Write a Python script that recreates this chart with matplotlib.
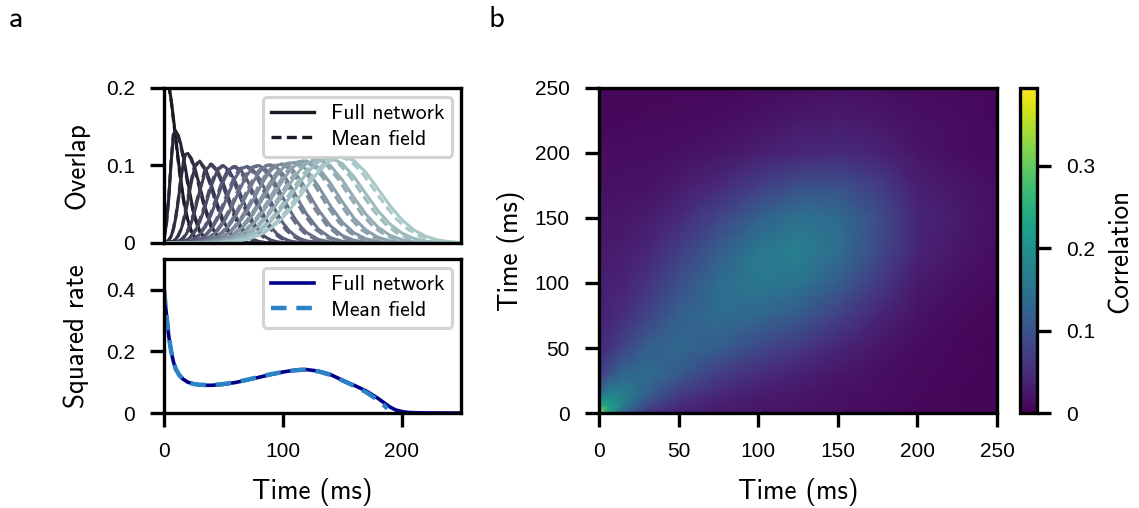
import numpy as np
import matplotlib
matplotlib.use('Agg')
import matplotlib.pyplot as plt
from matplotlib.lines import Line2D

# ---------------------------------------------------------------------------
# Data
# ---------------------------------------------------------------------------

# panel a (top): overlaps of the network state with each pattern of the sequence
t_overlap = [0, 2, 4, 6, 8, 10, 12, 14, 16, 18, 20, 23, 26, 30, 35, 40, 45, 50, 55, 60,
             65, 70, 75, 80, 85, 90, 95, 100, 105, 110, 115, 120, 130, 140, 150, 160,
             170, 180, 190, 200, 210, 220, 230, 240, 250]
# mean field runs slightly faster than the full network
t_overlap_mf = [0, 2, 3.9, 5.9, 7.8, 9.8, 11.8, 13.7, 15.7, 17.6, 19.6, 22.5, 25.5, 29.4,
                34.3, 39.2, 44.1, 49, 53.9, 58.8, 63.7, 68.6, 73.5, 78.4, 83.3, 88.2, 93.1,
                98, 102.9, 107.8, 112.7, 117.6, 127.4, 137.2, 147, 156.8, 166.6, 176.4,
                186.2, 196, 205.8, 215.6, 225.4, 235.2, 245]

overlap = [
    [0.221, 0.217, 0.204, 0.185, 0.160, 0.134, 0.1075, 0.083, 0.0614, 0.0437, 0.0299,
     0.0157, 0.0075, 0.0024, 0.0005, 0.0001] + [0] * 29,
    [0.005, 0.0242, 0.0582, 0.1044, 0.1398, 0.1443, 0.1386, 0.128, 0.1135, 0.0967, 0.0792,
     0.0544, 0.0342, 0.016, 0.0049, 0.0012, 0.0002] + [0] * 28,
    [0.0005, 0.0014, 0.0036, 0.0086, 0.018, 0.0334, 0.0546, 0.0789, 0.101, 0.1142, 0.1156,
     0.1092, 0.0964, 0.0734, 0.0441, 0.0219, 0.009, 0.0031, 0.0009, 0.0002] + [0] * 25,
    [0, 0.0002, 0.0005, 0.0012, 0.0026, 0.0051, 0.0093, 0.0159, 0.0255, 0.0382, 0.0535,
     0.0782, 0.0983, 0.1057, 0.0953, 0.0741, 0.0497, 0.0287, 0.0143, 0.0062, 0.0023,
     0.0007, 0.0002] + [0] * 22,
    [0, 0.0001, 0.0002, 0.0003, 0.0006, 0.0012, 0.0021, 0.0037, 0.0061, 0.0098, 0.015,
     0.0262, 0.0416, 0.0663, 0.0937, 0.1018, 0.0936, 0.0765, 0.0555, 0.0357, 0.0204,
     0.0104, 0.0047, 0.0019, 0.0007, 0.0002] + [0] * 19,
    [0] * 4 + [0.0002, 0.0004, 0.0007, 0.0011, 0.0019, 0.003, 0.0046, 0.0085, 0.0145,
               0.0268, 0.0489, 0.0744, 0.0943, 0.0998, 0.0932, 0.079, 0.0607, 0.0423,
               0.0267, 0.0153, 0.008, 0.0038, 0.0016, 0.0006, 0.0002] + [0] * 16,
    [0] * 6 + [0.0003, 0.0004, 0.0007, 0.0011, 0.0017, 0.0031, 0.0054, 0.0105, 0.0213,
               0.0378, 0.0587, 0.0798, 0.0949, 0.0988, 0.0933, 0.0813, 0.0652, 0.0482,
               0.0328, 0.0206, 0.0119, 0.0064, 0.0031, 0.0014, 0.0006, 0.0002] + [0] * 13,
    [0] * 8 + [0.0003, 0.0005, 0.0008, 0.0014, 0.0023, 0.0045, 0.0095, 0.018, 0.0308,
               0.0476, 0.0665, 0.084, 0.0958, 0.0989, 0.0942, 0.0837, 0.0694, 0.0537,
               0.0388, 0.0262, 0.0164, 0.0097, 0.0053, 0.0027, 0.0006, 0.0001] + [0] * 11,
    [0] * 9 + [0.0002, 0.0004, 0.0007, 0.0011, 0.0022, 0.0046, 0.0088, 0.0158, 0.0261,
               0.0399, 0.0562, 0.0731, 0.0879, 0.0975, 0.0999, 0.0958, 0.0866, 0.0737,
               0.0592, 0.0448, 0.0319, 0.0214, 0.0135, 0.0045, 0.0012, 0.0002] + [0] * 10,
    [0] * 10 + [0.0002, 0.0004, 0.0006, 0.0011, 0.0024, 0.0046, 0.0083, 0.0142, 0.0228,
                0.0342, 0.0481, 0.0634, 0.0785, 0.091, 0.0989, 0.1009, 0.0973, 0.0891,
                0.0775, 0.064, 0.0502, 0.0374, 0.0178, 0.0069, 0.0022, 0.0006, 0.0001] + [0] * 8,
    [0] * 11 + [0.0002, 0.0004, 0.0007, 0.0013, 0.0025, 0.0046, 0.008, 0.0131, 0.0203,
                0.0299, 0.0418, 0.0553, 0.0695, 0.0829, 0.0936, 0.1003, 0.1019, 0.0987,
                0.0914, 0.0809, 0.0684, 0.0427, 0.0223, 0.0097, 0.0035, 0.0011, 0.0003] + [0] * 7,
    [0] * 12 + [0.0002, 0.0004, 0.0008, 0.0015, 0.0027, 0.0047, 0.0078, 0.0123, 0.0186,
                0.0269, 0.0372, 0.0492, 0.0623, 0.0754, 0.0873, 0.0968, 0.1025, 0.1039,
                0.101, 0.0944, 0.0731, 0.0482, 0.0271, 0.013, 0.0053, 0.0018, 0.0005,
                0.0001] + [0] * 5,
    [0] * 13 + [0.0003, 0.0005, 0.0009, 0.0017, 0.0029, 0.0048, 0.0076, 0.0117, 0.0172,
                0.0245, 0.0335, 0.0442, 0.0561, 0.0685, 0.0807, 0.0914, 0.0997, 0.1047,
                0.1059, 0.0972, 0.0774, 0.0535, 0.032, 0.0166, 0.0075, 0.0029, 0.001,
                0.0003] + [0] * 4,
    [0] * 14 + [0.0003, 0.0006, 0.0011, 0.0018, 0.003, 0.0049, 0.0075, 0.0112, 0.0162,
                0.0226, 0.0306, 0.0401, 0.0508, 0.0624, 0.0742, 0.0854, 0.0951, 0.1024,
                0.1079, 0.1, 0.0815, 0.0585, 0.037, 0.0206, 0.0101, 0.0043, 0.0016,
                0.0006, 0.0002] + [0] * 2,
    [0] * 15 + [0.0004, 0.0007, 0.0012, 0.002, 0.0032, 0.0049, 0.0074, 0.0108, 0.0153,
                0.0211, 0.0282, 0.0367, 0.0465, 0.0571, 0.0683, 0.0794, 0.0897, 0.1051,
                0.1099, 0.1026, 0.0854, 0.0633, 0.0419, 0.0247, 0.013, 0.0061, 0.0025,
                0.0009, 0.0003, 0.0001],
    [0] * 16 + [0.0005, 0.0008, 0.0013, 0.0021, 0.0032, 0.0048, 0.0071, 0.0101, 0.014,
                0.0191, 0.0253, 0.0328, 0.0414, 0.051, 0.0614, 0.072, 0.092, 0.1066,
                0.112, 0.1063, 0.091, 0.0701, 0.0487, 0.0305, 0.0172, 0.0088, 0.004,
                0.0017, 0.0006],
]

# panel a (bottom): squared rate
t_rate = [0, 2, 4, 6, 8, 10, 13, 16, 20, 25, 30, 35, 40, 50, 60, 70, 80, 90, 100, 110,
          115, 120, 130, 140, 150, 160, 170, 180, 185, 190, 195, 200, 205, 210, 220, 230,
          240, 250]
rate_full = [0.40, 0.32, 0.25, 0.20, 0.165, 0.142, 0.122, 0.110, 0.100, 0.094, 0.091,
             0.090, 0.090, 0.093, 0.099, 0.107, 0.116, 0.125, 0.133, 0.139, 0.141, 0.141,
             0.136, 0.125, 0.107, 0.090, 0.072, 0.048, 0.034, 0.020, 0.010, 0.005, 0.002,
             0.001, 0.0003, 0.0001, 0, 0]
t_rate_mf = [0, 2, 4, 6, 8, 10, 13, 16, 20, 25, 30, 35, 40, 50, 60, 70, 80, 90, 100, 110,
             115, 120, 130, 140, 150, 160, 170, 180, 185, 188]
rate_mf = [0.40, 0.32, 0.25, 0.20, 0.165, 0.142, 0.122, 0.110, 0.100, 0.094, 0.092, 0.091,
           0.091, 0.094, 0.100, 0.108, 0.117, 0.126, 0.133, 0.138, 0.140, 0.140, 0.135,
           0.124, 0.106, 0.088, 0.068, 0.042, 0.026, 0.014]

# panel b: correlation between times t (x) and t' (y), rows are t'
corr_t = [0, 6, 15, 30, 50, 75, 100, 125, 150, 175, 200, 225, 250]
corr = [
    [0.365, 0.225, 0.125, 0.058, 0.036, 0.028, 0.023, 0.020, 0.016, 0.012, 0.009, 0.007, 0.005],
    [0.232, 0.225, 0.165, 0.089, 0.048, 0.033, 0.026, 0.022, 0.017, 0.013, 0.009, 0.007, 0.005],
    [0.132, 0.172, 0.170, 0.122, 0.072, 0.044, 0.031, 0.025, 0.018, 0.014, 0.010, 0.007, 0.005],
    [0.067, 0.098, 0.130, 0.140, 0.111, 0.072, 0.050, 0.036, 0.024, 0.016, 0.010, 0.008, 0.005],
    [0.045, 0.057, 0.081, 0.118, 0.132, 0.114, 0.087, 0.064, 0.041, 0.024, 0.013, 0.009, 0.006],
    [0.036, 0.041, 0.052, 0.080, 0.120, 0.140, 0.132, 0.110, 0.076, 0.042, 0.019, 0.012, 0.007],
    [0.031, 0.034, 0.039, 0.058, 0.094, 0.140, 0.160, 0.152, 0.116, 0.068, 0.029, 0.018, 0.010],
    [0.027, 0.028, 0.031, 0.042, 0.070, 0.116, 0.158, 0.170, 0.143, 0.090, 0.039, 0.025, 0.013],
    [0.022, 0.023, 0.024, 0.030, 0.047, 0.081, 0.121, 0.149, 0.138, 0.093, 0.043, 0.028, 0.015],
    [0.017, 0.017, 0.018, 0.020, 0.028, 0.046, 0.072, 0.094, 0.097, 0.072, 0.035, 0.024, 0.014],
    [0.013, 0.013, 0.014, 0.014, 0.017, 0.023, 0.033, 0.043, 0.047, 0.039, 0.023, 0.015, 0.010],
    [0.009, 0.009, 0.009, 0.010, 0.011, 0.014, 0.020, 0.027, 0.030, 0.026, 0.017, 0.014, 0.008],
    [0.007, 0.007, 0.007, 0.007, 0.008, 0.009, 0.012, 0.015, 0.017, 0.016, 0.012, 0.010, 0.008],
]
corr_max = 0.394

# ---------------------------------------------------------------------------
# Style
# ---------------------------------------------------------------------------
plt.rcParams['font.family'] = ['Liberation Sans', 'DejaVu Sans']
LABEL_FONT = 'cmss10'
LABEL_SIZE = 19.5
LEGEND_SIZE = 15.6
TICK_SIZE = 15
SPINE_W = 2.4
TICK_LEN = 10
TICK_PAD = 11

fig = plt.figure(figsize=(11.39, 5.08), dpi=100)
ax_ov = fig.add_axes([0.144, 0.5217, 0.2607, 0.3051])
ax_r = fig.add_axes([0.144, 0.187, 0.2607, 0.3032])
ax_c = fig.add_axes([0.5259, 0.187, 0.3494, 0.6398])
cax = fig.add_axes([0.8955, 0.187, 0.015, 0.6398])


def style_axes(ax):
    for sp in ax.spines.values():
        sp.set_linewidth(SPINE_W)
    ax.tick_params(width=SPINE_W, length=TICK_LEN, pad=TICK_PAD, labelsize=TICK_SIZE)


def add_legend(ax, *args):
    leg = ax.legend(*args, loc='upper right', prop={'family': LABEL_FONT, 'size': LEGEND_SIZE},
                    framealpha=0.85, edgecolor='#cccccc', borderpad=0.35,
                    labelspacing=0.3, handlelength=2.0, handletextpad=0.8,
                    borderaxespad=0.4)
    leg.get_frame().set_linewidth(2.2)
    return leg


# --- overlaps ---
colors = plt.cm.bone(np.linspace(0.12, 0.75, len(overlap)))
for k, vals in enumerate(overlap):
    ax_ov.plot(t_overlap, vals, color=colors[k], lw=2.2, solid_capstyle='butt')
    ax_ov.plot(t_overlap_mf, vals, color=colors[k], lw=2.2, ls=(0, (3, 1.6)))
ax_ov.set_xlim(0, 250)
ax_ov.set_ylim(0, 0.2)
ax_ov.set_yticks([0, 0.1, 0.2])
ax_ov.set_yticklabels(['0', '0.1', '0.2'])
ax_ov.set_xticks([0, 100, 200])
ax_ov.set_ylabel('Overlap', fontfamily=LABEL_FONT, fontsize=LABEL_SIZE, labelpad=12)
style_axes(ax_ov)
ax_ov.tick_params(axis='x', bottom=False, labelbottom=False)
handles = [Line2D([], [], color=colors[0], lw=2.4),
           Line2D([], [], color=colors[0], lw=2.4, ls=(0, (3, 1.6)))]
add_legend(ax_ov, handles, ['Full network', 'Mean field'])

# --- squared rate ---
ax_r.plot(t_rate, rate_full, color='#00008b', lw=2.6, label='Full network')
ax_r.plot(t_rate_mf, rate_mf, color='#2b83c6', lw=3.2, ls=(0, (3.5, 2.2)), label='Mean field')
ax_r.set_xlim(0, 250)
ax_r.set_ylim(0, 0.5)
ax_r.set_yticks([0, 0.2, 0.4])
ax_r.set_yticklabels(['0', '0.2', '0.4'])
ax_r.set_xticks([0, 100, 200])
ax_r.set_xlabel('Time (ms)', fontfamily=LABEL_FONT, fontsize=LABEL_SIZE, labelpad=12)
ax_r.set_ylabel('Squared rate', fontfamily=LABEL_FONT, fontsize=LABEL_SIZE, labelpad=12)
style_axes(ax_r)
add_legend(ax_r)

# --- correlation map ---
mesh = ax_c.pcolormesh(corr_t, corr_t, np.array(corr), shading='gouraud',
                       cmap='viridis', vmin=0, vmax=corr_max)
ax_c.set_xlim(0, 250)
ax_c.set_ylim(0, 250)
ax_c.set_xticks(range(0, 251, 50))
ax_c.set_yticks(range(0, 251, 50))
ax_c.set_xlabel('Time (ms)', fontfamily=LABEL_FONT, fontsize=LABEL_SIZE, labelpad=12)
ax_c.set_ylabel('Time (ms)', fontfamily=LABEL_FONT, fontsize=LABEL_SIZE, labelpad=7)
style_axes(ax_c)

cb = fig.colorbar(mesh, cax=cax)
cb.outline.set_linewidth(SPINE_W)
cb.set_ticks([0, 0.1, 0.2, 0.3])
cb.set_ticklabels(['0', '0.1', '0.2', '0.3'])
cax.tick_params(width=SPINE_W, length=TICK_LEN, pad=TICK_PAD, labelsize=TICK_SIZE)
cb.set_label('Correlation', fontfamily=LABEL_FONT, fontsize=LABEL_SIZE, labelpad=9)

# panel letters
fig.text(0.008, 0.962, 'a', fontfamily=LABEL_FONT, fontsize=22, va='center')
fig.text(0.429, 0.962, 'b', fontfamily=LABEL_FONT, fontsize=22, va='center')

fig.savefig('out.png', dpi=100)
